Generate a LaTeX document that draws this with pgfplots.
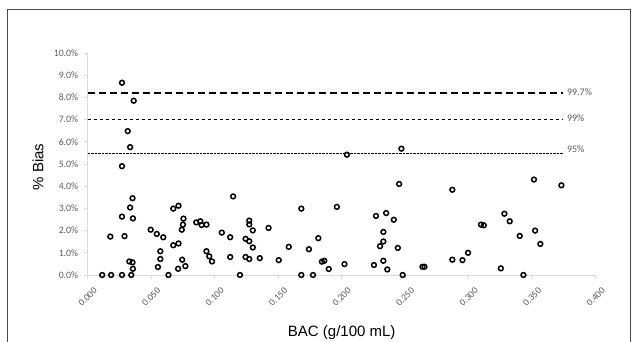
\documentclass[border=0pt]{standalone}
\usepackage{fontspec}
\setmainfont{Carlito}
\newfontfamily\arial{Liberation Sans}
\usepackage{pgfplots}
\pgfplotsset{compat=1.18}
\definecolor{tickgray}{HTML}{595959}
\definecolor{axgray}{HTML}{D9D9D9}
\definecolor{framegray}{HTML}{4A4A4A}
\begin{document}
\begin{tikzpicture}[x=1pt,y=1pt]
\useasboundingbox (0,0) rectangle (634,341);
\draw[framegray, line width=1pt] (7.3,331) rectangle (630.5,-10);
\begin{axis}[
  at={(87.7pt,66pt)}, anchor=south west,
  scale only axis, width=508pt, height=222pt,
  xmin=0, xmax=0.4, ymin=0, ymax=10,
  clip=false,
  axis x line=bottom, axis y line=left,
  axis line style={draw=axgray, line width=0.8pt, -},
  tick style={draw=axgray, line width=0.8pt},
  major tick length=4pt, tick align=outside,
  xtick={0,0.05,0.1,0.15,0.2,0.25,0.3,0.35,0.4},
  ytick={0,1,2,3,4,5,6,7,8,9,10},
  /pgf/number format/assume math mode=true,
  xticklabel={\pgfmathprintnumber[fixed,fixed zerofill,precision=3]{\tick}},
  yticklabel={\pgfmathprintnumber[fixed,fixed zerofill,precision=1]{\tick}\%},
  xticklabel style={yshift=-18pt, rotate=45, anchor=center, font=\fontsize{9.5}{11}\selectfont, text=tickgray},
  yticklabel style={xshift=-2pt, font=\fontsize{9.8}{11}\selectfont, text=tickgray},
  xlabel={BAC (g/100 mL)},
  ylabel={\% Bias},
  xlabel style={at={(axis description cs:0.5,-0.261)}, anchor=center, font=\arial\fontsize{15}{17}\selectfont},
  ylabel style={at={(axis description cs:-0.098,0.486)}, anchor=center, rotate=0, font=\arial\fontsize{15}{17}\selectfont},
]
\addplot[black, line width=1.2pt, dash pattern=on 7pt off 4pt] coordinates {(0,8.2) (0.374,8.2)};
\addplot[black, line width=1.1pt, dash pattern=on 3.5pt off 2.5pt] coordinates {(0,7.0) (0.374,7.0)};
\addplot[black, line width=0.8pt, dash pattern=on 0.8pt off 0.6pt] coordinates {(0,5.47) (0.374,5.47)};
\node[anchor=west, text=tickgray, font=\fontsize{10}{12}\selectfont, inner sep=1pt] at (axis cs:0.3765,8.25) {99.7\%};
\node[anchor=west, text=tickgray, font=\fontsize{10}{12}\selectfont, inner sep=1pt] at (axis cs:0.3765,7.08) {99\%};
\node[anchor=west, text=tickgray, font=\fontsize{10}{12}\selectfont, inner sep=1pt] at (axis cs:0.3765,5.65) {95\%};
\addplot[only marks, mark=o, mark size=2.4pt, mark options={line width=1.5pt, draw=black}] table {
x y
0.0114 0
0.0184 0
0.0178 1.73
0.027 0
0.027 2.63
0.029 1.75
0.027 4.90
0.027 8.66
0.0315 6.48
0.0334 5.76
0.0334 3.04
0.0353 3.46
0.0356 2.55
0.0362 7.85
0.0328 0.61
0.0353 0.57
0.0356 0.28
0.0343 0
0.0496 2.04
0.0544 1.85
0.0595 1.70
0.0572 1.07
0.0572 0.72
0.0553 0.36
0.0636 0
0.0674 2.99
0.0715 3.12
0.0674 1.34
0.0715 1.42
0.0754 2.54
0.075 2.27
0.0741 2.04
0.0744 0.69
0.0712 0.28
0.0769 0.40
0.0855 2.37
0.0887 2.42
0.0897 2.25
0.0935 2.27
0.0935 1.07
0.0957 0.84
0.0979 0.61
0.1056 1.91
0.1122 1.70
0.1145 3.54
0.1122 0.81
0.1199 0
0.1243 1.63
0.1272 1.52
0.1272 2.45
0.1272 2.28
0.130 2.01
0.130 1.24
0.1243 0.81
0.1272 0.72
0.1355 0.76
0.1424 2.12
0.1504 0.67
0.1583 1.27
0.1682 2.99
0.1742 1.16
0.1682 0
0.1774 0
0.1816 1.66
0.1844 0.60
0.1863 0.64
0.1898 0.27
0.1962 3.07
0.2022 0.49
0.2041 5.42
0.2254 0.45
0.227 2.66
0.2302 1.30
0.2328 1.94
0.2328 1.51
0.235 2.79
0.2328 0.64
0.2359 0.25
0.241 2.49
0.2442 1.22
0.2452 4.10
0.247 5.69
0.248 0
0.2636 0.37
0.2652 0.37
0.2871 3.84
0.2871 0.69
0.2951 0.67
0.2995 1.00
0.3097 2.27
0.3119 2.24
0.3253 0.30
0.3281 2.76
0.3323 2.42
0.3402 1.76
0.3431 0
0.3514 4.30
0.3523 2.00
0.3564 1.40
0.373 4.04
};
\end{axis}
\end{tikzpicture}
\end{document}
